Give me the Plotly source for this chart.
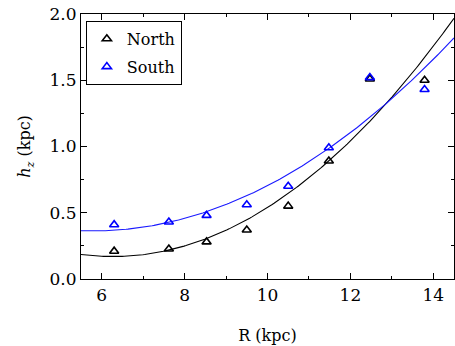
import numpy as np
import plotly.graph_objects as go

# Scale height h_z versus galactocentric radius R
r_north = [6.3, 7.62, 8.53, 9.5, 10.5, 11.48, 12.47, 13.79]
hz_north = [0.21, 0.226, 0.28, 0.37, 0.55, 0.89, 1.51, 1.50]

r_south = [6.3, 7.62, 8.53, 9.5, 10.5, 11.48, 12.47, 13.79]
hz_south = [0.41, 0.43, 0.48, 0.56, 0.70, 0.99, 1.52, 1.43]

x_range = [5.5, 14.5]
y_range = [0.0, 2.0]

# Quadratic least-squares fits to each hemisphere
r_fit = np.linspace(x_range[0], x_range[1], 200)
fit_north = np.polyval(np.polyfit(r_north, hz_north, 2), r_fit)
fit_south = np.polyval(np.polyfit(r_south, hz_south, 2), r_fit)

font = "DejaVu Serif"
fsize = 17

fig = go.Figure()
fig.add_trace(go.Scatter(x=r_fit, y=fit_north, mode="lines",
                         line=dict(color="black", width=1.1),
                         showlegend=False, hoverinfo="skip"))
fig.add_trace(go.Scatter(x=r_fit, y=fit_south, mode="lines",
                         line=dict(color="#1a1aff", width=1.1),
                         showlegend=False, hoverinfo="skip"))
fig.add_trace(go.Scatter(x=r_north, y=hz_north, mode="markers", name="North",
                         legendgroup="n",
                         marker=dict(symbol="triangle-up-open", size=8,
                                     color="black", line=dict(width=1.6))))
fig.add_trace(go.Scatter(x=r_south, y=hz_south, mode="markers", name="South",
                         legendgroup="s",
                         marker=dict(symbol="triangle-up-open", size=8,
                                     color="#0000ff", line=dict(width=1.6))))

axis_common = dict(
    showgrid=False, zeroline=False, showline=True, linecolor="black",
    linewidth=1.2, mirror="allticks", ticks="inside", ticklen=6,
    tickwidth=1.2, tickcolor="black",
    tickfont=dict(family=font, size=fsize, color="black"),
)

fig.update_xaxes(**axis_common, range=x_range, dtick=2, tick0=0,
                 minor=dict(ticks="inside", dtick=1, tick0=0, ticklen=3,
                            tickwidth=1.2, tickcolor="black"),
                 title=dict(text="R (kpc)", standoff=26,
                            font=dict(family=font, size=16, color="black")))
fig.update_yaxes(**axis_common, range=y_range, dtick=0.5, tick0=0,
                 tickformat=".1f",
                 minor=dict(ticks="inside", dtick=0.25, tick0=0, ticklen=3,
                            tickwidth=1.2, tickcolor="black"),
                 title=dict(text="<i>h</i><sub><i>z</i></sub> (kpc)", standoff=14,
                            font=dict(family=font, size=16, color="black")))

fig.update_layout(
    width=455, height=346,
    margin=dict(l=81, r=1, t=14, b=67),
    paper_bgcolor="white", plot_bgcolor="white",
    font=dict(family=font, color="black"),
    legend=dict(x=0.013, y=0.974, xanchor="left", yanchor="top",
                bgcolor="white", bordercolor="black", borderwidth=1,
                font=dict(family=font, size=16, color="black"),
                itemwidth=30, tracegroupgap=4),
)

fig.write_html("out.html")
